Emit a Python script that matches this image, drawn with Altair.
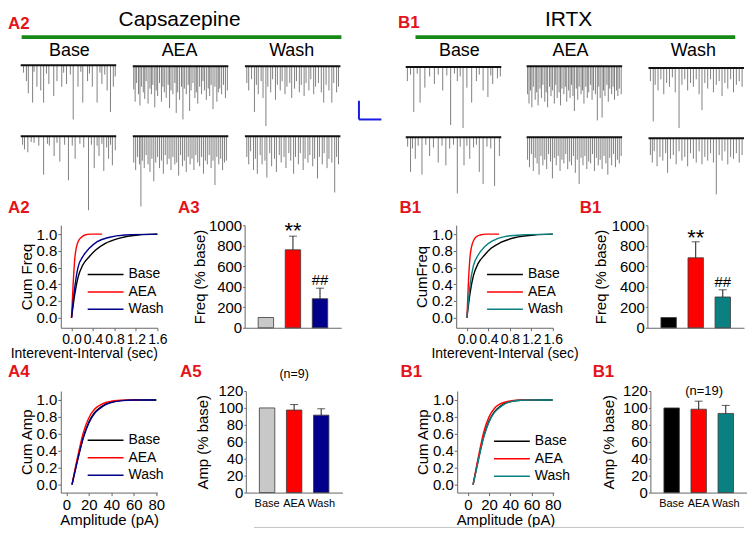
import altair as alt
import pandas as pd

FONT = "Liberation Sans"
RED_LABEL = "#e3141b"
GREEN = "#168a16"
CONDS = ["Base", "AEA", "Wash"]

# ================= spontaneous EPSC traces: (event time %, event depth) =================
caps_base_1 = [(3,8),(6,17),(8,30),(12.5,40),(14,7),(17,23),(21,27),(24,40),(27,9),(29.5,20),(34.6,33),(38,17),(43,23),(45,8),(48,20),(52,10),(55,58),(60,23),(63,7),(65,40),(70,17),(72,9),(75,23),(80,40),(83,8),(85,20),(88,10),(90.5,27),(94,50),(97,23),(99,12)]
caps_base_2 = [(2,9),(4,14),(7.5,17),(11,6),(14,7),(19,10),(24,41),(28,8),(30,10),(35,21),(38,7),(41,27),(46,9),(50,47),(54,10),(57,24),(62,8),(66,12),(71,79),(74,9),(77,34),(80,10),(82,21),(85,8),(87,37),(90,12),(92,24),(94,9),(96,31),(99,15)]
caps_aea_1 = [(1,25),(2.5,38),(4,18),(6,30),(7.5,42),(9,22),(11,28),(12.5,35),(14,16),(16,40),(18,24),(19.5,30),(21,20),(23,44),(24.5,26),(26,32),(28,18),(30,38),(31.5,22),(33,28),(35,34),(37,20),(38.5,45),(40,26),(42,30),(44,18),(45.5,50),(47,28),(49,36),(51,22),(52.5,57),(54,24),(56,30),(58,20),(59.5,48),(61,26),(63,18),(65,34),(66.5,28),(68,40),(70,22),(72,30),(73.5,16),(75,26),(77,36),(79,24),(80.5,32),(82,20),(84,46),(86,22),(88,38),(89.5,28),(91,24),(93,30),(95,20),(97,34),(99,26)]
caps_aea_2 = [(1,28),(3,36),(5,22),(7,30),(8.5,75),(10,26),(12,34),(14,20),(16,30),(18,38),(20,24),(22,48),(24,28),(26,22),(28,34),(30,26),(32,40),(34,20),(36,30),(38,24),(40,36),(42,22),(44,30),(46,28),(48,42),(50,20),(52,32),(54,26),(56,38),(58,22),(60,30),(62,24),(64,36),(66,20),(68,28),(70,32),(72,22),(74,40),(76,26),(78,30),(80,20),(82,34),(84,26),(86,52),(88,22),(90,30),(92,24),(94,36),(96,28),(98,26)]
caps_wash_1 = [(2,18),(4,26),(7,14),(10,49),(12,20),(14,30),(17,16),(19,34),(22,64),(24,22),(27,28),(29,14),(32,36),(34,20),(37,26),(39,16),(42,30),(44,22),(47,18),(49,34),(52,24),(54,16),(57,28),(59,20),(62,32),(64,18),(67,26),(69,14),(72,30),(74,22),(77,18),(80,28),(82.5,39),(85,20),(88,26),(91,39),(93,18),(96,28),(98,22)]
caps_wash_2 = [(2,22),(4,30),(6,16),(9,36),(11,24),(13,40),(16,20),(18,30),(21,26),(23,44),(26,18),(28,32),(31,24),(33,38),(36,20),(38,28),(41,22),(43,34),(46,18),(48,26),(51,40),(53,22),(56,30),(58,18),(61,36),(63,24),(66,28),(68,20),(71,32),(73,24),(76,45),(78,22),(81,30),(83,18),(86,34),(88,24),(91,28),(94,60),(96,22),(98,30)]
irtx_base_1 = [(1.7,15),(5,8),(8.4,48),(12,7),(15,38),(20,22),(25,10),(30,18),(34,8),(38.7,25),(43,9),(47,62),(51,7),(54,15),(57,10),(60,65),(64,22),(69,38),(74,15),(77,8),(81,25),(86,32),(89,9),(91,18),(96,12),(99,10)]
irtx_base_2 = [(2,10),(5,37),(7,12),(10,23),(13,9),(17,40),(21,8),(25,20),(29,11),(34,27),(38,9),(42,30),(46,12),(50,8),(54,60),(57,10),(61,30),(64,9),(67,23),(71,11),(74,8),(77,37),(81,50),(85,10),(89,12),(93,52),(98,20)]
irtx_aea_1 = [(1,30),(2.5,40),(4,26),(5.5,44),(7,22),(9,36),(10.5,28),(12,42),(14,24),(15.5,34),(17,20),(19,38),(20.5,28),(22,44),(24,22),(25.5,32),(27,26),(29,40),(30.5,20),(32,34),(34,28),(35.5,42),(37,24),(39,30),(40.5,22),(42,38),(44,26),(45.5,34),(47,20),(48.5,32),(50,48),(52,24),(53.5,36),(55,22),(57,30),(58.5,26),(60,40),(62,22),(63.5,34),(65,28),(67,20),(68.5,36),(70,26),(72,30),(74,58),(75.5,22),(77,34),(79,55),(80.5,26),(82,32),(84,20),(85.5,38),(87,24),(89,30),(90.5,22),(92,36),(94,26),(95.5,32),(97,24),(99,30)]
irtx_aea_2 = [(1,24),(3,32),(5,18),(7,36),(9,22),(11,28),(13,40),(15,20),(17,30),(19,24),(21,34),(23,18),(25,26),(27,44),(29,22),(31,30),(33,20),(35,36),(37,24),(39,28),(41,18),(43,34),(45,26),(47,30),(49,20),(51,38),(53,24),(55,50),(57,22),(59,30),(61,20),(63,34),(65,26),(67,28),(69,18),(71,36),(73,22),(75,30),(77,24),(79,34),(81,20),(83,28),(85,40),(87,22),(89,30),(91,18),(93,32),(95,24),(97,28),(99,20)]
irtx_wash_1 = [(2,14),(5,57),(7,18),(10,24),(13,12),(16,28),(19,16),(22,20),(25,10),(28,26),(32,64),(35,18),(38,12),(41,24),(44,16),(47,20),(50,12),(53,28),(56,45),(59,16),(62,22),(65,12),(68,26),(71,18),(74,14),(77,30),(80,16),(83,22),(86,12),(89,26),(92,18),(95,14),(98,20)]
irtx_wash_2 = [(2,18),(4,26),(6,14),(9,30),(12,20),(15,24),(18,16),(20,37),(23,22),(26,18),(29,28),(32,14),(35,24),(38,20),(41,30),(44,16),(47,22),(50,26),(53,14),(56,28),(59,20),(62,24),(65,16),(68,26),(71,60),(74,18),(77,24),(80,14),(83,28),(86,20),(89,22),(92,16),(95,26),(98,18)]

# ================= cumulative distributions =================
caps_ivi = {
    "Base": ([0, 0.06, 0.12, 0.21, 0.33, 0.45, 0.63, 0.88, 1.24, 1.6], [0, 0.28, 0.48, 0.63, 0.73, 0.81, 0.89, 0.95, 0.99, 1.0]),
    "AEA":  ([0, 0.03, 0.06, 0.09, 0.13, 0.18, 0.25, 0.35, 0.57], [0, 0.4, 0.7, 0.84, 0.92, 0.96, 0.99, 1.0, 1.0]),
    "Wash": ([0, 0.06, 0.12, 0.21, 0.33, 0.48, 0.69, 1.0, 1.6], [0, 0.36, 0.6, 0.73, 0.83, 0.91, 0.96, 0.99, 1.0]),
}
irtx_ivi = {
    "Base": ([0, 0.06, 0.12, 0.21, 0.33, 0.45, 0.63, 0.9, 1.25, 1.6], [0, 0.3, 0.5, 0.65, 0.75, 0.83, 0.9, 0.96, 0.99, 1.0]),
    "AEA":  ([0, 0.03, 0.06, 0.09, 0.13, 0.18, 0.25, 0.35, 0.6], [0, 0.45, 0.74, 0.86, 0.93, 0.97, 0.99, 1.0, 1.0]),
    "Wash": ([0, 0.06, 0.12, 0.21, 0.33, 0.48, 0.7, 1.0, 1.6], [0, 0.4, 0.62, 0.75, 0.85, 0.92, 0.97, 0.99, 1.0]),
}
caps_amp_cum = {
    "Base": ([5, 10, 15, 20, 25, 30, 35, 40, 50, 60, 80], [0, 0.3, 0.56, 0.74, 0.85, 0.91, 0.95, 0.975, 0.995, 1, 1]),
    "AEA":  ([5, 10, 15, 20, 25, 30, 35, 40, 50, 65], [0, 0.33, 0.61, 0.79, 0.89, 0.94, 0.97, 0.985, 0.998, 1]),
    "Wash": ([5, 10, 15, 20, 25, 30, 35, 40, 50, 60, 80], [0, 0.29, 0.55, 0.73, 0.84, 0.9, 0.945, 0.97, 0.993, 1, 1]),
}
irtx_amp_cum = {
    "Base": ([5, 10, 15, 20, 25, 30, 35, 40, 50, 60, 80], [0, 0.3, 0.57, 0.75, 0.86, 0.92, 0.96, 0.98, 0.997, 1, 1]),
    "AEA":  ([5, 10, 15, 20, 25, 30, 35, 40, 50, 65], [0, 0.33, 0.62, 0.8, 0.9, 0.95, 0.975, 0.99, 1, 1]),
    "Wash": ([5, 10, 15, 20, 25, 30, 35, 40, 50, 60, 80], [0, 0.29, 0.56, 0.74, 0.85, 0.91, 0.955, 0.977, 0.996, 1, 1]),
}

# ================= bar summaries (mean, sem) =================
caps_freq, caps_freq_err = [100, 760, 283], [0, 133, 103]
irtx_freq, irtx_freq_err = [100, 682, 300], [0, 156, 70]
caps_amp, caps_amp_err = [100, 97.5, 91.5], [0, 6.5, 7.5]
irtx_amp, irtx_amp_err = [100, 98.5, 93.5], [0, 9.5, 9.5]

CAPS_COLORS = ["#000000", "#ff0000", "#00008b"]
CAPS_BAR = ["#c8c8c8", "#ff0000", "#00008b"]
IRTX_COLORS = ["#000000", "#ff0000", "#0a8080"]
IRTX_BAR = ["#000000", "#ff0000", "#0a8080"]

ONE = pd.DataFrame({"a": [0]})

# ================= top panel: traces =================
ORIGIN = 53          # left offset of the first plot area (shared origin of the rows)
TW, TH = 739 - ORIGIN, 202
TRACE_W = 98
traces = [
    (caps_base_1, 13, 60), (caps_aea_1, 128, 61), (caps_wash_1, 243, 61),
    (caps_base_2, 13, 136), (caps_aea_2, 128, 136), (caps_wash_2, 243, 136),
    (irtx_base_1, 408, 62), (irtx_aea_1, 532, 61), (irtx_wash_1, 657, 63),
    (irtx_base_2, 408, 137), (irtx_aea_2, 532, 137), (irtx_wash_2, 657, 138),
]
spk, bl = [], []
for pairs, x0, base in traces:
    bl.append({"x": x0, "x2": x0 + TRACE_W, "y": base})
    for t, d in pairs:
        spk.append({"x": x0 + t / 100 * TRACE_W, "y": base, "y2": base + d})
spike_df = pd.DataFrame(spk)
base_df = pd.DataFrame(bl)

XS = alt.Scale(domain=[755 - 755 * TW / 739, 755], nice=False, zero=False)
YS = alt.Scale(domain=[0, 215], nice=False, zero=False, reverse=True)


def tx(f):
    return alt.X(f, type="quantitative", scale=XS, axis=None)


def ty(f):
    return alt.Y(f, type="quantitative", scale=YS, axis=None)


spikes = alt.Chart(spike_df).mark_rule(color="#4a4a4a", strokeWidth=0.7).encode(x=tx("x"), y=ty("y"), y2="y2:Q")
baselines = alt.Chart(base_df).mark_rule(color="#111111", strokeWidth=2).encode(x=tx("x"), x2="x2:Q", y=ty("y"))
green = alt.Chart(pd.DataFrame({"x": [14, 418], "x2": [342, 746], "y": [30, 30]})).mark_rule(
    color=GREEN, strokeWidth=4).encode(x=tx("x"), x2="x2:Q", y=ty("y"))
titles = alt.Chart(pd.DataFrame({"t": ["Capsazepine", "IRTX"], "x": [176, 575], "y": [12, 12]})).mark_text(
    font=FONT, fontSize=21).encode(x=tx("x"), y=ty("y"), text="t:N")
cond_lbl = alt.Chart(pd.DataFrame({"t": CONDS * 2, "x": [63, 176, 291, 463, 577, 703], "y": [45] * 6})).mark_text(
    font=FONT, fontSize=18).encode(x=tx("x"), y=ty("y"), text="t:N")
top_lbl = alt.Chart(pd.DataFrame({"t": ["A2", "B1"], "x": [0, 400], "y": [16, 15]})).mark_text(
    font=FONT, fontSize=17, fontWeight="bold", color=RED_LABEL, align="left").encode(x=tx("x"), y=ty("y"), text="t:N")
sb_v = alt.Chart(pd.DataFrame({"x": [360], "y": [98], "y2": [118]})).mark_rule(color="#1a1ae6", strokeWidth=2).encode(
    x=tx("x"), y=ty("y"), y2="y2:Q")
sb_h = alt.Chart(pd.DataFrame({"x": [360], "x2": [383], "y": [118]})).mark_rule(color="#1a1ae6", strokeWidth=2).encode(
    x=tx("x"), x2="x2:Q", y=ty("y"))
top = alt.layer(spikes, baselines, green, titles, cond_lbl, top_lbl, sb_v, sb_h).properties(width=TW, height=TH)


# ================= helpers =================
def panel_label(text, dx, dy):
    return alt.Chart(ONE).mark_text(text=text, font=FONT, fontSize=17, fontWeight="bold", color=RED_LABEL,
                                    align="left", baseline="middle").encode(x=alt.value(dx), y=alt.value(dy))


def cum_chart(series, colors, xdom, xvals, xfmt, xtitle, xtitle_size, xlabel_size, ytitle, ydom, lx, ly, label,
              ldx, ldy, h, anchor=None):
    rows = []
    for cond in CONDS:
        xs, ys = series[cond]
        for xv, yv in zip(xs, ys):
            rows.append({"cond": cond, "x": xv, "y": yv})
    df = pd.DataFrame(rows)
    xkw = dict(values=xvals, format=xfmt, title=xtitle, labelOverlap=False, labelFlush=False, tickSize=3,
               labelPadding=2, titlePadding=0, titleFontSize=xtitle_size, labelFontSize=xlabel_size)
    if anchor:
        xkw["titleAnchor"] = anchor
    lines = alt.Chart(df).mark_line(interpolate="monotone", strokeWidth=1.4).encode(
        x=alt.X("x:Q", scale=alt.Scale(domain=xdom, nice=False, zero=False), axis=alt.Axis(**xkw)),
        y=alt.Y("y:Q", scale=alt.Scale(domain=ydom, nice=False, zero=False),
                axis=alt.Axis(values=[0, 0.2, 0.4, 0.6, 0.8, 1.0], format=".1f", title=ytitle, tickSize=3,
                              labelPadding=1, titlePadding=2, labelOverlap=False)),
        color=alt.Color("cond:N", scale=alt.Scale(domain=CONDS, range=colors),
                        legend=alt.Legend(orient="none", legendX=lx, legendY=ly, title=None, symbolType="stroke",
                                          symbolSize=1296, symbolStrokeWidth=1.5, labelFontSize=14,
                                          labelFont=FONT, labelColor="black", clipHeight=16, rowPadding=1.5,
                                          padding=0, labelOffset=4)),
    )
    return alt.layer(lines, panel_label(label, ldx, ldy)).properties(width=97, height=h)


def bar_chart(vals, errs, colors, ydom, yvals, ytitle, tpad, show_x, label, ldx, ldy, h, sig=None, note=None):
    df = pd.DataFrame({"cond": CONDS, "val": vals, "hi": [v + e for v, e in zip(vals, errs)], "err": errs})
    xaxis = alt.Axis(title=None, labels=show_x, ticks=False, labelAngle=0, labelFontSize=11,
                     labelPadding=5, labelOverlap=False)
    yaxis = alt.Axis(values=yvals, format="d", title=ytitle, tickSize=2, labelPadding=1, titlePadding=tpad,
                     labelOverlap=False)
    yscale = alt.Scale(domain=ydom, nice=False)
    xe = alt.X("cond:N", sort=CONDS, scale=alt.Scale(paddingInner=0.43, paddingOuter=0.5), axis=xaxis)
    bars = alt.Chart(df).mark_bar(stroke="#3a3a3a", strokeWidth=0.8).encode(
        x=xe, y=alt.Y("val:Q", scale=yscale, axis=yaxis),
        color=alt.Color("cond:N", scale=alt.Scale(domain=CONDS, range=colors), legend=None))
    edf = df[df["err"] > 0]
    rules = alt.Chart(edf).mark_rule(color="#1a1a1a", strokeWidth=1).encode(
        x=xe, y=alt.Y("val:Q", scale=yscale, axis=yaxis), y2="hi:Q")
    caps = alt.Chart(edf).mark_tick(color="#1a1a1a", size=8, thickness=1).encode(
        x=xe, y=alt.Y("hi:Q", scale=yscale, axis=yaxis))
    layers = [bars, rules, caps]
    if sig:
        for cond, txt, size, dy in sig:
            layers.append(alt.Chart(edf[edf["cond"] == cond]).mark_text(
                text=txt, font=FONT, fontSize=size, dy=dy, baseline="alphabetic").encode(
                x=xe, y=alt.Y("hi:Q", scale=yscale, axis=yaxis)))
    if note:
        txt, nx, ny, size = note
        layers.append(alt.Chart(ONE).mark_text(text=txt, font=FONT, fontSize=size).encode(
            x=alt.value(nx), y=alt.value(ny)))
    layers.append(panel_label(label, ldx, ldy))
    return alt.layer(*layers).properties(width=97, height=h)


# ================= middle row =================
c1 = cum_chart(caps_ivi, CAPS_COLORS, [-0.2, 1.6], [0, 0.4, 0.8, 1.2, 1.6], ".1f", "Interevent-Interval (sec)", 14,
               14, "Cum Freq", [-0.12, 1.107], 26, 41.5, "A2", -53, -17, 103, anchor="end")
c2 = bar_chart(caps_freq, caps_freq_err, CAPS_BAR, [0, 1000], [0, 200, 400, 600, 800, 1000], "Freq (% base)", 1,
               False, "A3", -67, -17, 103, sig=[("AEA", "**", 22, 2), ("Wash", "##", 15, -3)])
c3 = cum_chart(irtx_ivi, IRTX_COLORS, [-0.2, 1.6], [0, 0.4, 0.8, 1.2, 1.6], ".1f", "Interevent-Interval (sec)", 14,
               14, "CumFreq", [-0.12, 1.107], 30, 41.5, "B1", -57, -17, 103)
c4 = bar_chart(irtx_freq, irtx_freq_err, IRTX_BAR, [0, 1000], [0, 200, 400, 600, 800, 1000], "Freq (% base)", 3,
               False, "B1", -68, -17, 103, sig=[("AEA", "**", 22, 3), ("Wash", "##", 15, -3)])

# ================= bottom row =================
b1 = cum_chart(caps_amp_cum, CAPS_COLORS, [-5, 81], [0, 20, 40, 60, 80], "d", "Amplitude (pA)", 15, 15,
               "Cum Amp", [-0.094, 1.106], 26, 41.5, "A4", -53, -19, 102)
b2 = bar_chart(caps_amp, caps_amp_err, CAPS_BAR, [0, 120], [0, 20, 40, 60, 80, 100, 120], "Amp (% base)", 7,
               True, "A5", -66, -19, 102, note=("(n=9)", 48.5, -17, 12.5))
b3 = cum_chart(irtx_amp_cum, IRTX_COLORS, [-10, 81], [0, 20, 40, 60, 80], "d", "Amplitude (pA)", 15, 15,
               "Cum Amp", [-0.094, 1.106], 36, 42.5, "B1", -57, -19, 102)
b4 = bar_chart(irtx_amp, irtx_amp_err, IRTX_BAR, [0, 120], [0, 20, 40, 60, 80, 100, 120], "Amp (% base)", 6,
               True, "B1", -58, -19, 102, note=("(n=19)", 54, 0, 13))


def hc(a, b, s):
    return alt.hconcat(a, b, spacing=s).resolve_scale(color="independent").resolve_legend(color="independent")


mid = hc(hc(c1, c2, 10.6), hc(c3, c4, 1), 58)
bot = hc(hc(b1, b2, 14.8), hc(b3, b4, 22), 58)

line_row = alt.Chart(ONE).mark_rule(color="#c4c4c4", strokeWidth=1).encode(
    x=alt.value(247 - ORIGIN), x2=alt.value(739 - ORIGIN), y=alt.value(0)).properties(width=TW, height=1)

upper = alt.vconcat(top, mid, spacing=-12).resolve_scale(color="independent").resolve_legend(color="independent")
lower = alt.vconcat(bot, line_row, spacing=-7.5).resolve_scale(color="independent").resolve_legend(color="independent")
chart = alt.vconcat(upper, lower, spacing=2.5).resolve_scale(color="independent").resolve_legend(
    color="independent").properties(padding=0)

chart = chart.configure_view(stroke=None).configure_axis(
    labelFont=FONT, titleFont=FONT, labelFontSize=15, titleFontSize=15, titleFontWeight="normal",
    labelColor="#000000", titleColor="#000000", domainColor="#666666", tickColor="#666666", grid=False,
    labelOverlap=False
).configure_legend(labelFont=FONT)

chart.save("out.html", embed_options={"renderer": "svg", "actions": False})
